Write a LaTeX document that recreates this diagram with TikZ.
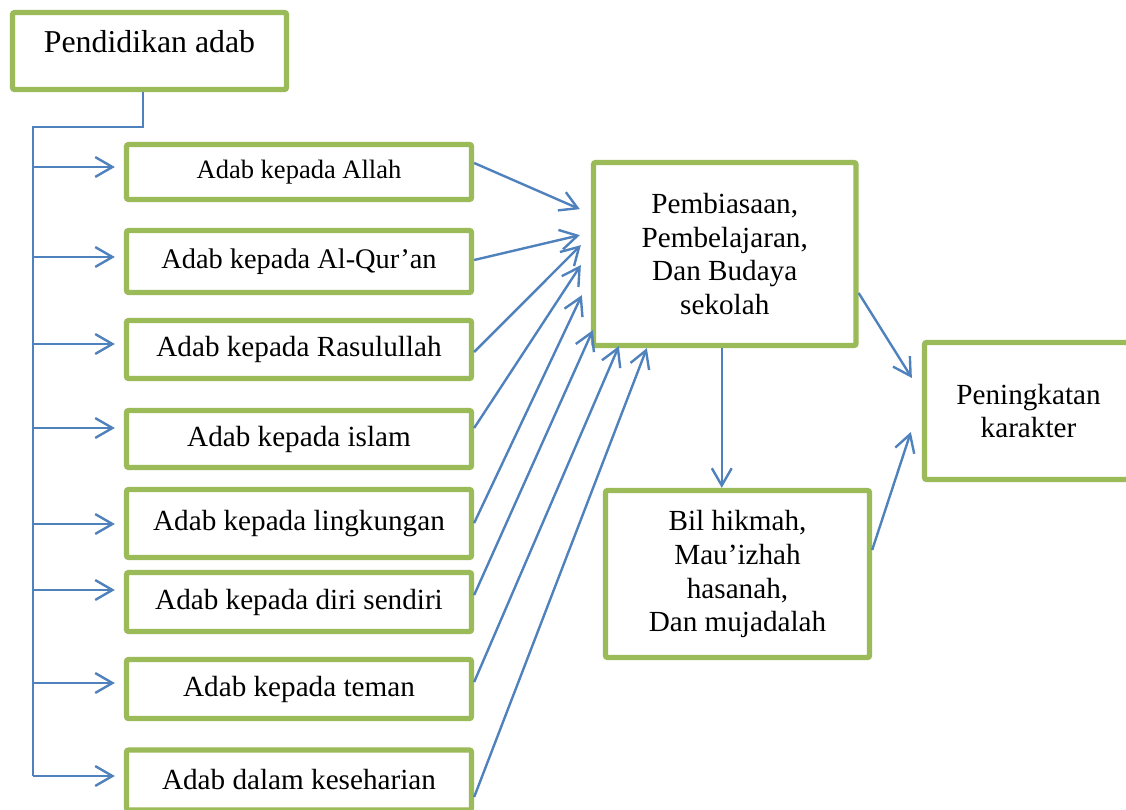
\documentclass[tikz,border=0pt]{standalone}
\usepackage{fontspec}
\setmainfont{Liberation Serif}
\usetikzlibrary{arrows.meta,calc}
\definecolor{adLeaf}{HTML}{9BBB59}
\definecolor{adLink}{HTML}{4F81BD}
\definecolor{adInk} {HTML}{000000}
\newcommand{\pxu}{0.377pt}
\tikzset{
  adbox/.style={draw=adLeaf,fill=white,line width=2pt,rectangle,rounded corners=0.8pt,
                align=center,text=adInk,inner sep=2pt,font=\fontsize{11}{12.8}\selectfont},
  adlink/.style={draw=adLink,line width=0.9pt},
  adarrow/.style={adlink,-{Straight Barb[length=6.5pt,width=7.5pt]}},
}
\begin{document}
\begin{tikzpicture}[x=\pxu,y=-\pxu]
  \clip (0,0) rectangle (1126,809);
  \fill[white] (0,0) rectangle (1126,809);

  \node[adbox,minimum width=274*\pxu,minimum height=77*\pxu,
        font=\fontsize{12}{14}\selectfont,text height=8.5pt,text depth=7pt]
        (pend) at (149.5,51) {Pendidikan adab};

  \node[adbox,minimum width=345*\pxu,minimum height=55*\pxu,font=\fontsize{10}{12}\selectfont]
        (allah) at (299,172) {Adab kepada Allah};
  \node[adbox,minimum width=345*\pxu,minimum height=62*\pxu,font=\fontsize{10.7}{12.8}\selectfont]
        (quran) at (299,261.5) {Adab kepada Al-Qur’an};
  \node[adbox,minimum width=345*\pxu,minimum height=58*\pxu] (rasul) at (299,349.5) {Adab kepada Rasulullah};
  \node[adbox,minimum width=345*\pxu,minimum height=57*\pxu] (islam) at (299,439) {Adab kepada islam};
  \node[adbox,minimum width=345*\pxu,minimum height=68*\pxu] (lingk) at (299,523.5) {Adab kepada lingkungan};
  \node[adbox,minimum width=345*\pxu,minimum height=59*\pxu] (diri) at (299,602) {Adab kepada diri sendiri};
  \node[adbox,minimum width=345*\pxu,minimum height=59*\pxu] (teman) at (299,689) {Adab kepada teman};
  \node[adbox,minimum width=345*\pxu,minimum height=60*\pxu] (hari) at (299,780) {Adab dalam keseharian};

  \node[adbox,minimum width=262.5*\pxu,minimum height=183*\pxu] (mid) at (724.75,254)
        {Pembiasaan,\\Pembelajaran,\\Dan Budaya\\sekolah};
  \node[adbox,minimum width=264*\pxu,minimum height=167*\pxu] (bil) at (737.5,574)
        {Bil hikmah,\\Mau’izhah\\hasanah,\\Dan mujadalah};
  \node[adbox,minimum width=208*\pxu,minimum height=137*\pxu] (pen) at (1028.5,411)
        {Peningkatan\\karakter};

  \coordinate (trunk) at (33,127);
  \foreach \n/\dy in {allah/-5,quran/-4.5,rasul/-5.5,islam/-11,lingk/0.5,diri/-12,teman/-6,hari/-4}{
    \coordinate (in-\n) at ($(\n.west)+(0,\dy)$);
    \draw[adarrow,shorten >=3.4pt] (trunk |- in-\n) -- (in-\n);
  }
  \draw[adlink] ($(pend.south)+(-6.5,0)$) |- (trunk) -- (trunk |- in-hari);

  \foreach \n/\dy/\ex/\ey in {allah/-9/-11/-139,quran/-1.5/-11/-113,rasul/2.5/-10/-103,
      islam/-11/-10/-83,lingk/-0.5/-9/-53,diri/-7/2/-18,teman/-7/28/-2,hari/17/56/0}
    \draw[adarrow] ($(\n.east)+(0,\dy)$) -- ($(mid.south west)+(\ex,\ey)$);

  \coordinate (midfoot) at ($(mid.south)+(-3,0)$);
  \draw[adarrow] (midfoot) -- (midfoot |- bil.north);
  \draw[adarrow] ($(mid.east)+(0,39)$) -- ($(pen.west)+(-10,-33)$);
  \draw[adarrow] ($(bil.east)+(0,-24)$) -- ($(pen.west)+(-11,21)$);
\end{tikzpicture}
\end{document}
